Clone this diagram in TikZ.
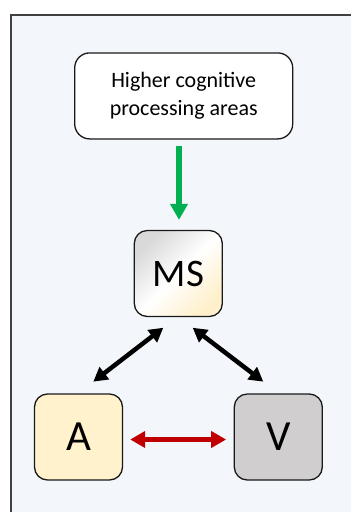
\documentclass[tikz,border=0pt]{standalone}
\usepackage{fontspec}
\setmainfont{Carlito}
\usetikzlibrary{arrows.meta,calc}
\definecolor{framebg}{HTML}{F3F6FB}
\definecolor{frameline}{HTML}{404040}
\definecolor{afill}{HTML}{FFF2CC}
\definecolor{vfill}{HTML}{D0CECE}
\definecolor{msgray}{HTML}{D9D9D9}
\definecolor{msyellow}{HTML}{FFF0CC}
\definecolor{arrgreen}{HTML}{00B050}
\definecolor{arrred}{HTML}{C00000}
\pgfdeclarehorizontalshading{msshade}{100bp}{color(0bp)=(msgray); color(25bp)=(msgray); color(50bp)=(white); color(75bp)=(msyellow); color(100bp)=(msyellow)}
\tikzset{
  box/.style={draw=black!90, line width=1.3pt, rounded corners=13pt, minimum width=88pt, minimum height=86pt, inner sep=0pt, font=\fontsize{43}{48}\selectfont},
  bigbox/.style={draw=black!90, line width=1.3pt, rounded corners=15pt, fill=white, minimum width=218pt, minimum height=86pt, align=center, font=\fontsize{22}{27.5}\selectfont},
  greenarrow/.style={draw=arrgreen, line width=6pt, -{Triangle[width=17pt,length=16pt]}},
  blackarrow/.style={draw=black, line width=4.5pt, {Triangle[width=15pt,length=14pt]}-{Triangle[width=15pt,length=14pt]}},
  redarrow/.style={draw=arrred, line width=5pt, {Triangle[width=16pt,length=15pt]}-{Triangle[width=16pt,length=15pt]}},
}
\begin{document}
\begin{tikzpicture}[x=1pt,y=-1pt]
\useasboundingbox (0,0) rectangle (351,512);
\fill[framebg] (11,15) rectangle (351,512);
\draw[frameline, line width=1.6pt] (11,512) -- (11,15) -- (351,15);
\node[bigbox] (hca) at (183.7,95.9) {Higher cognitive\\processing areas};
\node[box, shading=msshade, shading angle=-45, font=\fontsize{39}{44}\selectfont] (ms) at (178.3,273.5) {MS};
\node[box, fill=afill] (a) at (78.5,437) {A};
\node[box, fill=vfill] (v) at (278.3,437) {V};
\draw[greenarrow] ($(hca.south)+(-4.7,6)$) -- ($(ms.north)+(0.7,-10)$);
\draw[blackarrow] ($(ms.south)+(-15,10.6)$) -- ($(a.north)+(14.8,-11.7)$);
\draw[blackarrow] ($(ms.south)+(14.4,10.6)$) -- ($(v.north)+(-15,-11.7)$);
\draw[redarrow] ($(a.east)+(7,2.5)$) -- ($(v.west)+(-7.5,2.5)$);
\end{tikzpicture}
\end{document}
